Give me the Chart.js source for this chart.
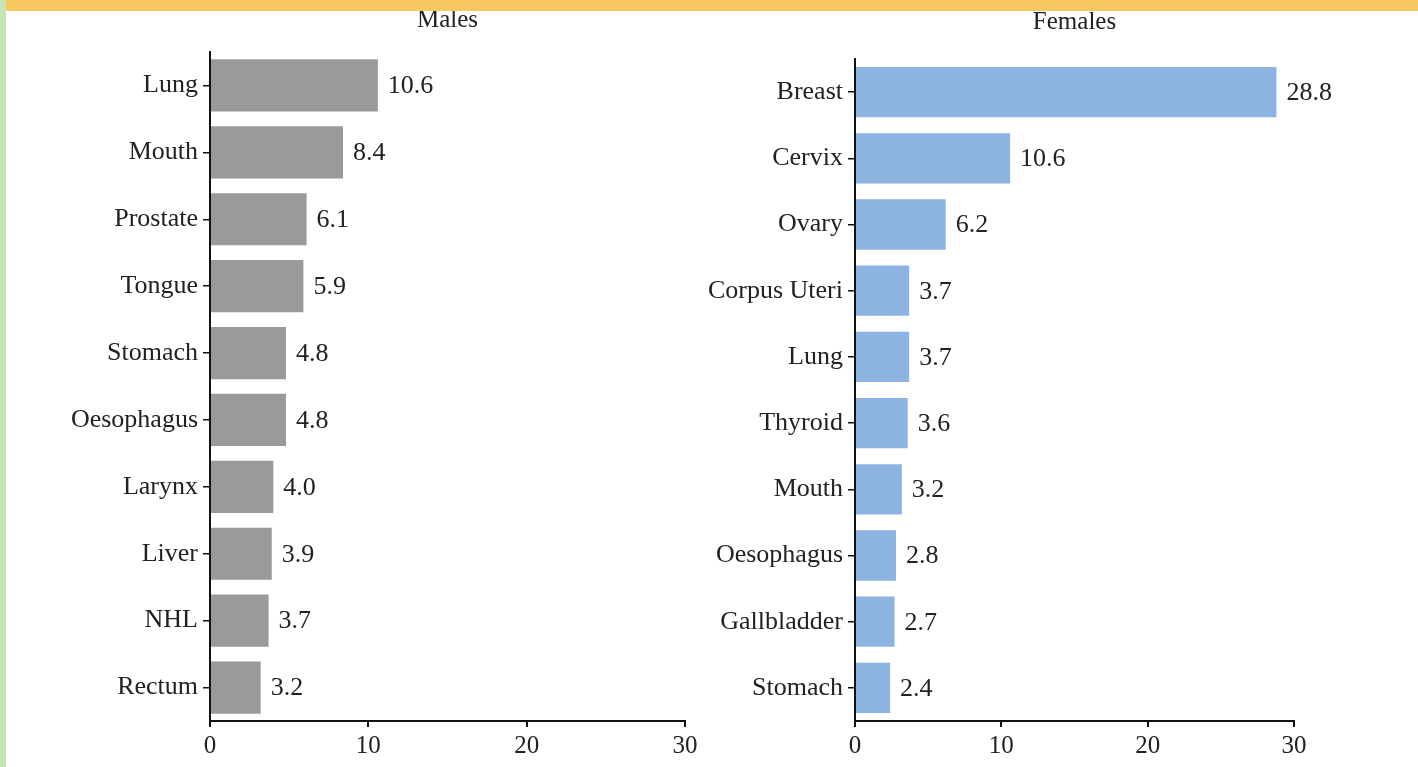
<!DOCTYPE html>
<html>
<head>
<meta charset="utf-8">
<script src="https://cdn.jsdelivr.net/npm/chart.js@4.4.0/dist/chart.umd.min.js"></script>
<style>
  html, body { margin: 0; padding: 0; background: #fff; overflow: hidden; }
  #wrap { position: relative; width: 1418px; height: 767px; }
  .top { position: absolute; left: 0; top: 0; width: 1418px; height: 11px; background: #f6c85f; z-index: 2; }
  .side { position: absolute; left: 0; top: 0; width: 6px; height: 767px; background: #c5e5b9; z-index: 2; }
  .box { position: absolute; top: 0; width: 709px; height: 767px; }
</style>
</head>
<body>
<div id="wrap">
  <div class="top"></div>
  <div class="side"></div>
  <div class="box" style="left:0"><canvas id="males"></canvas></div>
  <div class="box" style="left:709px"><canvas id="females"></canvas></div>
</div>
<script>
const maleSites = ['Lung', 'Mouth', 'Prostate', 'Tongue', 'Stomach', 'Oesophagus', 'Larynx', 'Liver', 'NHL', 'Rectum'];
const maleValues = [10.6, 8.4, 6.1, 5.9, 4.8, 4.8, 4.0, 3.9, 3.7, 3.2];
const femaleSites = ['Breast', 'Cervix', 'Ovary', 'Corpus Uteri', 'Lung', 'Thyroid', 'Mouth', 'Oesophagus', 'Gallbladder', 'Stomach'];
const femaleValues = [28.8, 10.6, 6.2, 3.7, 3.7, 3.6, 3.2, 2.8, 2.7, 2.4];
const xTicks = [0, 10, 20, 30];

const serif = '"Liberation Serif", "Times New Roman", serif';

// writes the number just past the end of each bar
const valueLabels = {
  id: 'valueLabels',
  afterDatasetsDraw(chart) {
    const ctx = chart.ctx;
    const meta = chart.getDatasetMeta(0);
    ctx.save();
    ctx.font = '26px ' + serif;
    ctx.fillStyle = '#222';
    ctx.textBaseline = 'middle';
    meta.data.forEach((bar, i) => {
      const v = chart.data.datasets[0].data[i];
      ctx.fillText(v.toFixed(1), bar.x + 10, bar.y + 1);
    });
    ctx.restore();
  }
};

function makeChart(id, title, labels, values, color, axisWidth, padRight, padTop, titleGap, barPct) {
  return new Chart(document.getElementById(id), {
    type: 'bar',
    data: {
      labels: labels,
      datasets: [{
        data: values,
        backgroundColor: color,
        borderWidth: 0,
        barPercentage: barPct,
        categoryPercentage: 1
      }]
    },
    plugins: [valueLabels],
    options: {
      indexAxis: 'y',
      responsive: true,
      maintainAspectRatio: false,
      animation: false,
      layout: { padding: { left: 0, right: padRight, top: padTop, bottom: 0 } },
      plugins: {
        legend: { display: false },
        tooltip: { enabled: false },
        title: {
          display: true,
          text: title,
          fullSize: false,
          color: '#222',
          font: { family: serif, size: 25, weight: 'normal', lineHeight: 1.2 },
          padding: { top: 0, bottom: titleGap }
        }
      },
      scales: {
        x: {
          min: 0,
          max: 30,
          afterBuildTicks(scale) { scale.ticks = xTicks.map(v => ({ value: v })); },
          afterFit(scale) { scale.height = 46; },
          border: { display: true, color: '#111', width: 2 },
          grid: { drawOnChartArea: false, drawTicks: true, tickLength: 6, color: '#111', lineWidth: 2 },
          ticks: { color: '#222', padding: 4, font: { family: serif, size: 25 } }
        },
        y: {
          afterFit(scale) { scale.width = axisWidth; },
          border: { display: true, color: '#111', width: 2 },
          grid: { drawOnChartArea: false, drawTicks: true, tickLength: 7, color: '#111', lineWidth: 1.5, offset: false },
          ticks: { color: '#222', padding: 5, font: { family: serif, size: 26 } }
        }
      }
    }
  });
}

makeChart('males', 'Males', maleSites, maleValues, '#9a9a9a', 210, 24, 5, 17, 0.78);
makeChart('females', 'Females', femaleSites, femaleValues, '#8db3e1', 146, 124, 7, 22, 0.76);
</script>
</body>
</html>
